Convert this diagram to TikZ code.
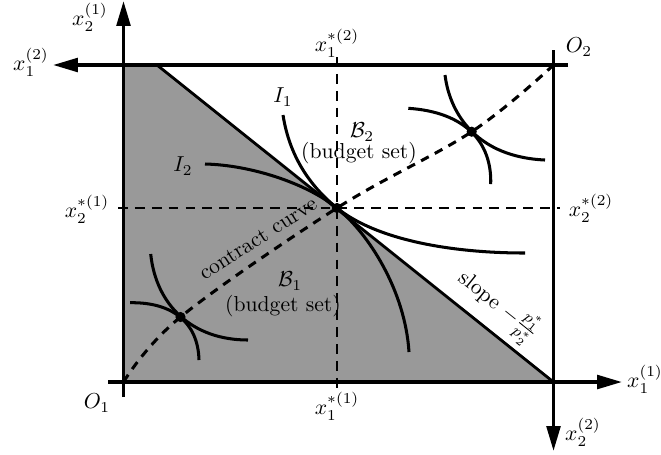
\documentclass[tikz,border=0pt]{standalone}
\usetikzlibrary{arrows.meta}
\begin{document}
\begin{tikzpicture}[x=0.462pt,y=-0.462pt,
  axis/.style={line width=1.6pt,-{Triangle[length=11.5pt,width=6.3pt]}},
  budgetline/.style={line width=1.3pt},
  icurve/.style={line width=1.4pt},
  guide/.style={line width=0.75pt,dash pattern=on 4.5pt off 3.3pt},
  ccurve/.style={line width=1.4pt,dash pattern=on 4pt off 3.2pt},
  dot/.style={circle,fill=black,inner sep=0pt,minimum size=4.7pt},
  lbl/.style={inner sep=1pt}]
\useasboundingbox (0,0) rectangle (661,454);

% key points
\coordinate (O1) at (123.5,382);
\coordinate (O2) at (553.5,65);
\coordinate (TL) at (123.5,65);
\coordinate (BT) at (157,65);
\coordinate (BR) at (553.5,382);
\coordinate (eq) at (337,208);
\coordinate (e1) at (180.5,317);
\coordinate (e3) at (471.7,131.7);

% budget set 1
\fill[black!40] (TL) -- (BT) -- (BR) -- (O1) -- cycle;

% guide lines
\coordinate (g1s) at (337,57);  \coordinate (g1e) at (337,389);
\coordinate (g2s) at (118,208); \coordinate (g2e) at (560,208);
\draw[guide] (g1s) -- (g1e);
\draw[guide] (g2s) -- (g2e);

% axes
\coordinate (a1s) at (108,382);   \coordinate (a1e) at (622,382);
\coordinate (a2s) at (123.5,397); \coordinate (a2e) at (123.5,1);
\coordinate (b1s) at (568,65);    \coordinate (b1e) at (53,65);
\coordinate (b2s) at (553.5,50);  \coordinate (b2e) at (553.5,451);
\draw[axis] (a1s) -- (a1e);
\draw[axis] (a2s) -- (a2e);
\draw[axis] (b1s) -- (b1e);
\draw[axis] (b2s) -- (b2e);

% budget line
\draw[budgetline] (BT) -- (BR);

% contract curve
\draw[ccurve] plot[smooth,tension=0.6] coordinates {(O1) (e1) (eq) (e3) (O2)};

% indifference curves, lower left
\draw[icurve] (150.7,254) .. controls (156,305) and (192,340) .. (248,340);
\draw[icurve] (130,302.7) .. controls (172,302) and (198,322) .. (199,360);

% indifference curves, upper right
\draw[icurve] (445,75) .. controls (450,115) and (478,157) .. (545,160);
\draw[icurve] (408.3,108.3) .. controls (465,112) and (492,142) .. (490.7,184);

% I1 and I2
\draw[icurve] (283,115) .. controls (290,160) and (313.6,189.1) .. (eq)
  .. controls (376,239.5) and (450,253) .. (525,253);
\draw[icurve] (205,164) .. controls (250,165) and (305.8,182.8) .. (eq)
  .. controls (368.2,233.2) and (405,290) .. (409,352);

% dots
\node[dot] (d1) at (e1) {};
\node[dot] (d2) at (eq) {};
\node[dot] (d3) at (e3) {};

% labels
\node[lbl] (lx21) at (90,17) {$x_2^{(1)}$};
\node[lbl] (lx12) at (31,62) {$x_1^{(2)}$};
\node[lbl] (lxs12) at (337,43) {$x_1^{*(2)}$};
\node[lbl] (lxs21) at (87,209) {$x_2^{*(1)}$};
\node[lbl] (lxs22) at (591,208) {$x_2^{*(2)}$};
\node[lbl] (lO2) at (579,47) {$O_2$};
\node[lbl] (lO1) at (97,403) {$O_1$};
\node[lbl] (lxs11) at (337,406) {$x_1^{*(1)}$};
\node[lbl] (lx11) at (645,379) {$x_1^{(1)}$};
\node[lbl] (lx22) at (583,432) {$x_2^{(2)}$};
\node[lbl] (lI1) at (283,97) {$I_1$};
\node[lbl] (lI2) at (183,166) {$I_2$};
\node[lbl] (lB2) at (362,132) {$\mathcal{B}_2$};
\node[lbl] (lbs2) at (359,153) {(budget set)};
\node[lbl] (lB1) at (290,281) {$\mathcal{B}_1$};
\node[lbl] (lbs1) at (283,306) {(budget set)};
\node[lbl,rotate=32.7] (lcc) at (258,238.5) {contract curve};
\node[lbl,rotate=-38.7] (lslope) at (498,306) {slope $-\frac{p_1^*}{p_2^*}$};
\end{tikzpicture}
\end{document}
